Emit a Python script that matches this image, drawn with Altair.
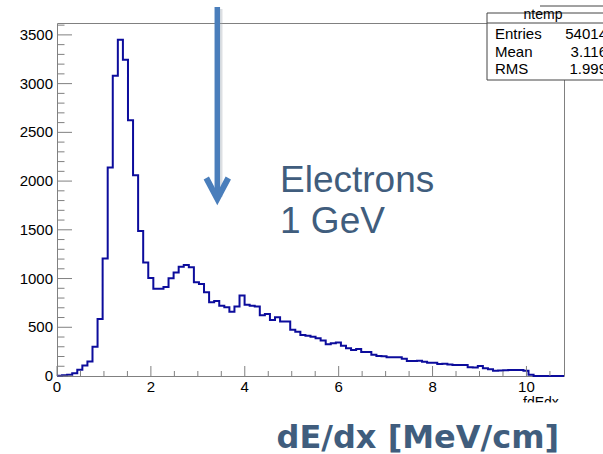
import altair as alt
import pandas as pd

# ---------------- data ----------------
counts = [3, 7, 14, 28, 65, 107, 148, 300, 586, 1205,
          2140, 3080, 3450, 3245, 2625, 2060, 1488, 1165, 1005, 895,
          895, 912, 1003, 1061, 1122, 1140, 1116, 962, 945, 859,
          757, 770, 722, 705, 660, 712, 825, 732, 722, 712,
          623, 636, 575, 602, 558, 558, 475, 453, 421, 414,
          404, 387, 363, 325, 336, 343, 311, 284, 267, 277,
          246, 246, 219, 205, 202, 192, 192, 192, 178, 154,
          154, 157, 147, 137, 137, 124, 126, 118, 113, 113,
          112, 89, 86, 103, 79, 68, 55, 56, 58, 62,
          62, 62, 55, 12, 0, 0, 0, 0, 0, 0]
x_min, x_max = 0.0, 10.8
n_bins = 100
y_max = 3622

x_label_values = [0, 2, 4, 6, 8, 10]
x_minor_values = [0.5, 1, 1.5, 2.5, 3, 3.5, 4.5, 5, 5.5, 6.5, 7, 7.5, 8.5, 9, 9.5, 10.5]
y_label_values = [0, 500, 1000, 1500, 2000, 2500, 3000, 3500]
y_minor_values = [v for v in range(100, 3700, 100) if v % 500 != 0]

stats_title = ["ntemp"]
stats_names = ["Entries", "Mean", "RMS"]
stats_values = ["54014", "3.116", "1.999"]
label_main = ["Electrons", "1 GeV"]
x_title = ["fdEdx"]
slide_title = ["dE/dx [MeV/cm]"]

# ---------------- tables ----------------
bw = (x_max - x_min) / n_bins
edges = [x_min + i * bw for i in range(n_bins + 1)]
hist_df = pd.DataFrame({"x": edges, "n": counts + [counts[-1]]})

W, H = 507, 353
L, T = 57, 23
FRAME = "#808080"
TXT = "#405d7d"
ARROW = "#4a7ebb"
FONT = "Liberation Sans"

xs = alt.Scale(domain=[x_min, x_max], nice=False, zero=False)
ys = alt.Scale(domain=[0, y_max], nice=False, zero=False)

hist = alt.Chart(hist_df).mark_line(
    interpolate="step-after", color="#0c0c9c", strokeWidth=2
).encode(
    x=alt.X("x:Q", scale=xs, axis=None),
    y=alt.Y("n:Q", scale=ys, axis=None),
)

def yticks(vals, length):
    return alt.Chart(pd.DataFrame({"n": vals})).mark_rule(color=FRAME, strokeWidth=1).encode(
        y=alt.Y("n:Q", scale=ys, axis=None), x=alt.value(0), x2=alt.value(length))

def xticks(vals, length):
    return alt.Chart(pd.DataFrame({"x": vals})).mark_rule(color=FRAME, strokeWidth=1).encode(
        x=alt.X("x:Q", scale=xs, axis=None), y=alt.value(H), y2=alt.value(H - length))

ylabels = alt.Chart(pd.DataFrame({"n": y_label_values, "t": [str(v) for v in y_label_values]})).mark_text(
    align="right", baseline="middle", fontSize=15, font=FONT, color="black"
).encode(y=alt.Y("n:Q", scale=ys, axis=None), x=alt.value(-4), text="t:N")

xlabels = alt.Chart(pd.DataFrame({"x": x_label_values, "t": [str(v) for v in x_label_values]})).mark_text(
    align="center", baseline="top", fontSize=15, font=FONT, color="black"
).encode(x=alt.X("x:Q", scale=xs, axis=None), y=alt.value(H + 4), text="t:N")

def text(vals, px, py, size, color="black", align="left", weight="normal", font=FONT, baseline="alphabetic"):
    return alt.Chart(pd.DataFrame({"t": vals})).mark_text(
        align=align, baseline=baseline, fontSize=size, color=color, fontWeight=weight, font=font
    ).encode(text="t:N", x=alt.value(px - L), y=alt.value(py - T))

def rect(x1, y1, x2, y2, fill="white", stroke=None):
    kw = dict(fill=fill)
    if stroke:
        kw.update(stroke=stroke, strokeWidth=1)
    else:
        kw.update(strokeWidth=0)
    return alt.Chart(pd.DataFrame({"k": [0]})).mark_rect(**kw).encode(
        x=alt.value(x1 - L), x2=alt.value(x2 - L), y=alt.value(y1 - T), y2=alt.value(y2 - T))

def hline(x1, x2, y, color="#444444"):
    return alt.Chart(pd.DataFrame({"k": [0]})).mark_rule(color=color, strokeWidth=1).encode(
        x=alt.value(x1 - L), x2=alt.value(x2 - L), y=alt.value(y - T))

# arrow
shadow = alt.Chart(pd.DataFrame({"k": [0]})).mark_rule(
    color="#9aa3ad", strokeWidth=6, opacity=0.35, strokeCap="butt"
).encode(x=alt.value(219.5 - L), y=alt.value(9 - T), y2=alt.value(197 - T))
shaft = alt.Chart(pd.DataFrame({"k": [0]})).mark_rule(
    color=ARROW, strokeWidth=5.5, strokeCap="butt"
).encode(x=alt.value(217.3 - L), y=alt.value(7 - T), y2=alt.value(195 - T))
head = alt.Chart(pd.DataFrame({"k": [0]})).mark_point(
    shape="M -1 -1 L 0 0.9 L 1 -1", filled=False, stroke=ARROW, strokeWidth=6,
    size=484, opacity=1, strokeJoin="miter"
).encode(x=alt.value(217.3 - L), y=alt.value(189 - T))

layers = [
    hist,
    yticks(y_label_values, 15), yticks(y_minor_values, 7.5),
    xticks(x_label_values, 10), xticks(x_minor_values, 5),
    ylabels, xlabels,
    # stats box
    rect(487, 13, 606, 80, stroke="#444444"),
    hline(540, 606, 6),
    hline(487, 606, 23),
    text(stats_title, 543, 19.3, 14, align="center"),
    text(stats_names[0:1], 495, 39.3, 15),
    text(stats_names[1:2], 495, 56.7, 15),
    text(stats_names[2:3], 495, 74, 15),
    text(stats_values[0:1], 607, 39.3, 15, align="right"),
    text(stats_values[1:2], 607, 56.7, 15, align="right"),
    text(stats_values[2:3], 607, 74, 15, align="right"),
    # annotations
    text(label_main[0:1], 280, 191.7, 37, color=TXT),
    text(label_main[1:2], 280, 233, 37, color=TXT),
    text(x_title, 523, 407, 14),
    rect(495, 402.5, 606, 418),
    text(slide_title, 276.5, 448.3, 32, color=TXT, weight="bold", font="DejaVu Sans"),
    shadow, shaft, head,
]

chart = alt.layer(*layers).properties(
    width=W, height=H,
    padding={"left": L, "top": T, "right": 603 - L - W, "bottom": 454 - T - H},
    autosize="none",
    background="white",
).configure_view(stroke=FRAME, strokeWidth=1)

chart.save("out.html", embed_options={"renderer": "svg", "actions": False})
